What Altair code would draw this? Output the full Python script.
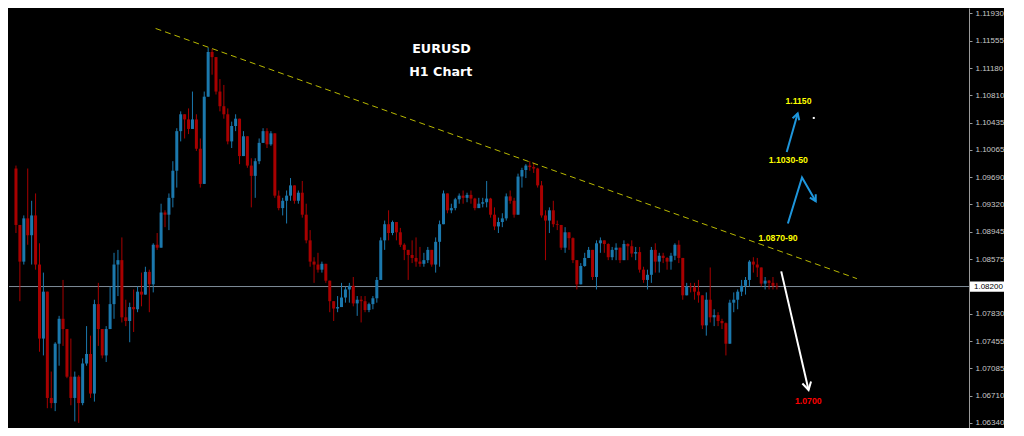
import altair as alt
import pandas as pd

# ---------------- data (EURUSD H1) ----------------
first_open = 1.0981
closes = [
1.0904,1.0854,1.0913,1.0890,1.0917,1.0850,1.0749,1.0813,1.0668,1.0661,
1.0742,1.0776,1.0762,1.0697,1.0668,1.0697,1.0661,1.0715,1.0728,1.0674,
1.0796,1.0762,1.0726,1.0762,1.0796,1.0850,1.0856,1.0778,1.0773,1.0792,
1.0789,1.0813,1.0809,1.0840,1.0823,1.0877,1.0873,1.0921,1.0918,1.0941,
1.0978,1.1032,1.1055,1.1048,1.1035,1.1048,1.1008,1.0960,1.1079,1.1140,
1.1133,1.1086,1.1066,1.1055,1.1018,1.1039,1.1049,1.0998,1.1025,1.0985,
1.0971,1.0991,1.1016,1.1032,1.1014,1.1029,1.0944,1.0927,1.0937,1.0944,
1.0958,1.0937,1.0948,1.0918,1.0883,1.0854,1.0850,1.0843,1.0851,1.0828,
1.0800,1.0790,1.0792,1.0805,1.0816,1.0821,1.0797,1.0802,1.0800,1.0788,
1.0796,1.0804,1.0829,1.0883,1.0905,1.0893,1.0908,1.0894,1.0877,1.0870,
1.0863,1.0859,1.0854,1.0851,1.0856,1.0870,1.0850,1.0881,1.0905,1.0947,
1.0924,1.0927,1.0939,1.0944,1.0941,1.0945,1.0940,1.0927,1.0933,1.0935,
1.0940,1.0918,1.0902,1.0908,1.0913,1.0943,1.0937,1.0918,1.0970,1.0979,
1.0985,1.0983,1.0981,1.0958,1.0917,1.0910,1.0924,1.0905,1.0904,1.0873,
1.0894,1.0886,1.0856,1.0823,1.0848,1.0859,1.0870,1.0833,1.0879,1.0883,
1.0878,1.0860,1.0870,1.0873,1.0856,1.0878,1.0875,1.0865,1.0867,1.0843,
1.0829,1.0836,1.0870,1.0854,1.0862,1.0859,1.0854,1.0862,1.0877,1.0859,
1.0808,1.0820,1.0819,1.0813,1.0808,1.0767,1.0802,1.0778,1.0781,1.0773,
1.0770,1.0742,1.0798,1.0802,1.0813,1.0821,1.0829,1.0854,1.0850,1.0846,
1.0824,1.0828,1.0825,1.0821,1.0820]
highs = [
1.0985,1.0900,1.0917,1.0981,1.0937,1.0947,1.0879,1.0839,1.0813,1.0704,
1.0744,1.0780,1.0829,1.0762,1.0749,1.0704,1.0699,1.0722,1.0766,1.0753,
1.0802,1.0825,1.0762,1.0766,1.0820,1.0866,1.0870,1.0887,1.0802,1.0798,
1.0816,1.0820,1.0839,1.0847,1.0843,1.0879,1.0893,1.0933,1.0924,1.0947,
1.0991,1.1036,1.1059,1.1055,1.1063,1.1086,1.1055,1.1022,1.1086,1.1146,
1.1144,1.1133,1.1103,1.1095,1.1063,1.1045,1.1055,1.1049,1.1032,1.1025,
1.0995,1.0995,1.1022,1.1036,1.1036,1.1032,1.1029,1.0951,1.0941,1.0951,
1.0968,1.0958,1.0951,1.0964,1.0933,1.0897,1.0860,1.0866,1.0854,1.0851,
1.0828,1.0800,1.0807,1.0825,1.0820,1.0825,1.0833,1.0807,1.0807,1.0807,
1.0798,1.0807,1.0833,1.0887,1.0910,1.0924,1.0910,1.0908,1.0900,1.0879,
1.0870,1.0883,1.0887,1.0874,1.0866,1.0874,1.0870,1.0887,1.0910,1.0951,
1.0947,1.0933,1.0941,1.0947,1.0951,1.0948,1.0951,1.0941,1.0941,1.0941,
1.0964,1.0941,1.0928,1.0914,1.0920,1.0947,1.0951,1.0941,1.0974,1.0982,
1.0987,1.0991,1.0989,1.0982,1.0964,1.0924,1.0928,1.0937,1.0910,1.0904,
1.0901,1.0893,1.0887,1.0856,1.0852,1.0866,1.0874,1.0870,1.0883,1.0887,
1.0883,1.0879,1.0874,1.0879,1.0873,1.0883,1.0879,1.0883,1.0874,1.0874,
1.0847,1.0843,1.0874,1.0879,1.0866,1.0866,1.0860,1.0866,1.0879,1.0883,
1.0859,1.0825,1.0825,1.0825,1.0829,1.0808,1.0812,1.0846,1.0789,1.0785,
1.0776,1.0771,1.0802,1.0812,1.0816,1.0829,1.0833,1.0856,1.0860,1.0859,
1.0846,1.0833,1.0829,1.0833,1.0825]
lows = [
1.0893,1.0800,1.0850,1.0877,1.0850,1.0843,1.0731,1.0726,1.0654,1.0654,
1.0650,1.0712,1.0739,1.0695,1.0658,1.0636,1.0634,1.0658,1.0712,1.0668,
1.0663,1.0739,1.0722,1.0717,1.0762,1.0776,1.0807,1.0771,1.0766,1.0744,
1.0758,1.0785,1.0793,1.0809,1.0785,1.0812,1.0870,1.0873,1.0901,1.0897,
1.0928,1.0955,1.1018,1.1022,1.1028,1.1035,1.1005,1.0955,1.0960,1.1079,
1.1109,1.1082,1.1059,1.1049,1.1014,1.1009,1.1032,1.0987,1.0998,1.0982,
1.0928,1.0941,1.0987,1.1016,1.1009,1.1012,1.0941,1.0924,1.0917,1.0906,
1.0937,1.0933,1.0933,1.0914,1.0879,1.0847,1.0825,1.0839,1.0839,1.0825,
1.0785,1.0773,1.0785,1.0792,1.0798,1.0798,1.0793,1.0780,1.0771,1.0785,
1.0785,1.0789,1.0798,1.0829,1.0870,1.0883,1.0890,1.0883,1.0874,1.0856,
1.0829,1.0852,1.0847,1.0847,1.0847,1.0852,1.0847,1.0839,1.0847,1.0905,
1.0920,1.0920,1.0924,1.0933,1.0933,1.0935,1.0933,1.0924,1.0927,1.0928,
1.0928,1.0914,1.0897,1.0893,1.0901,1.0910,1.0933,1.0914,1.0918,1.0955,
1.0968,1.0978,1.0975,1.0955,1.0914,1.0856,1.0893,1.0901,1.0897,1.0870,
1.0866,1.0870,1.0852,1.0816,1.0823,1.0847,1.0859,1.0829,1.0816,1.0866,
1.0866,1.0856,1.0856,1.0856,1.0852,1.0856,1.0856,1.0860,1.0856,1.0839,
1.0825,1.0816,1.0825,1.0839,1.0839,1.0852,1.0843,1.0843,1.0856,1.0852,
1.0802,1.0808,1.0812,1.0802,1.0798,1.0762,1.0753,1.0771,1.0766,1.0766,
1.0762,1.0726,1.0742,1.0785,1.0789,1.0807,1.0809,1.0820,1.0839,1.0833,
1.0820,1.0816,1.0816,1.0816,1.0816]

axis_ticks = [1.11930, 1.11555, 1.11180, 1.10810, 1.10435, 1.10065, 1.09690,
              1.09320, 1.08945, 1.08575, 1.07830, 1.07455, 1.07085, 1.06710, 1.06340]
current_price = 1.08200
current_label = "1.08200"

# trend line (bar index, price)
trend_k = [35.6, 214.4]
trend_p = [1.11721, 1.08308]

# forecast arrows: segment id, bar index, price
blue_seg = ["a", "a", "ah", "ah", "ah", "b", "b", "b", "bh", "bh", "bh"]
blue_k = [196.5, 199.3, 198.0, 199.3, 199.7, 196.8, 200.4, 203.9, 202.4, 203.9, 203.9]
blue_p = [1.10035, 1.10561, 1.10495, 1.10561, 1.10469, 1.09060, 1.09688, 1.09365,
          1.09412, 1.09365, 1.09459]
white_seg = ["w", "w", "wh", "wh", "wh"]
white_k = [195.1, 202.07, 200.5, 202.07, 202.7]
white_p = [1.08407, 1.06788, 1.06877, 1.06788, 1.06904]

title_text = ["EURUSD", "H1 Chart"]
title_k = [108.5, 108.3]
title_p = [1.11438, 1.11127]

level_text = ["1.1150", "1.1030-50", "1.0870-90"]
level_k = [199.5, 196.9, 194.3]
level_p = [1.10736, 1.09927, 1.08865]

target_text = ["1.0700"]
target_k = [202.0]
target_p = [1.0664]

dot_k = [203.4]
dot_p = [1.10500]

# ---------------- styling ----------------
BLUE = "#1b78ad"
RED = "#a80000"
ARROW_BLUE = "#1e96dc"
X_DOMAIN = [-0.5, 241.7]
Y_DOMAIN = [1.0627, 1.1200]
W, H = 960, 420

opens = [first_open] + closes[:-1]
df = pd.DataFrame({"k": list(range(len(closes))), "o": opens, "c": closes,
                   "h": highs, "l": lows})
df["hi"] = df[["h", "o", "c"]].max(axis=1)
df["lo"] = df[["l", "o", "c"]].min(axis=1)

xs = alt.Scale(domain=X_DOMAIN, nice=False, zero=False)
ys = alt.Scale(domain=Y_DOMAIN, nice=False, zero=False)
yaxis = alt.Axis(orient="right", values=axis_ticks, format=".5f", grid=False,
                 title=None, domainColor="#9a9a9a", tickColor="#9a9a9a",
                 labelColor="#c8c8c8", labelFont="Liberation Sans",
                 labelFontSize=8, tickSize=3, labelPadding=3)


def X(f):
    return alt.X(f, type="quantitative", scale=xs, axis=None)


def Y(f):
    return alt.Y(f, type="quantitative", scale=ys, axis=yaxis)


col = alt.condition("datum.c >= datum.o", alt.value(BLUE), alt.value(RED))

cur = pd.DataFrame({"p": [current_price], "label": [current_label],
                    "top": [current_price + 0.0007], "bot": [current_price - 0.0007]})

price_line = alt.Chart(cur).mark_rule(color="#7f8d99", strokeWidth=1).encode(y=Y("p"))

wicks = alt.Chart(df).mark_rule(strokeWidth=1).encode(x=X("k"), y=Y("lo"), y2="hi", color=col)
bodies = alt.Chart(df).mark_bar(size=3).encode(x=X("k"), y=Y("o"), y2="c", color=col)

trend = alt.Chart(pd.DataFrame({"k": trend_k, "p": trend_p})).mark_line(
    color="#b8b800", strokeWidth=1, strokeDash=[6, 4]).encode(x=X("k"), y=Y("p"))

blue_df = pd.DataFrame({"seg": blue_seg, "k": blue_k, "p": blue_p,
                        "n": list(range(len(blue_k)))})
blue_arrows = alt.Chart(blue_df).mark_line(color=ARROW_BLUE, strokeWidth=2).encode(
    x=X("k"), y=Y("p"), detail="seg:N", order="n:Q")

white_df = pd.DataFrame({"seg": white_seg, "k": white_k, "p": white_p,
                         "n": list(range(len(white_k)))})
white_arrow = alt.Chart(white_df).mark_line(color="#ffffff", strokeWidth=2).encode(
    x=X("k"), y=Y("p"), detail="seg:N", order="n:Q")

titles = alt.Chart(pd.DataFrame({"t": title_text, "k": title_k, "p": title_p})).mark_text(
    color="#ffffff", font="DejaVu Sans", fontWeight="bold", fontSize=12.7,
    align="center", baseline="middle").encode(x=X("k"), y=Y("p"), text="t:N")

levels = alt.Chart(pd.DataFrame({"t": level_text, "k": level_k, "p": level_p})).mark_text(
    color="#ffff00", font="Liberation Sans", fontWeight="bold", fontSize=8.7,
    align="center", baseline="middle").encode(x=X("k"), y=Y("p"), text="t:N")

target = alt.Chart(pd.DataFrame({"t": target_text, "k": target_k, "p": target_p})).mark_text(
    color="#ff0000", font="Liberation Sans", fontWeight="bold", fontSize=8.7,
    align="center", baseline="middle").encode(x=X("k"), y=Y("p"), text="t:N")

dot = alt.Chart(pd.DataFrame({"k": dot_k, "p": dot_p})).mark_square(
    color="#ffffff", size=4, opacity=1).encode(x=X("k"), y=Y("p"))

box = alt.Chart(cur).mark_rect(color="#ffffff").encode(
    x=alt.value(W + 1), x2=alt.value(W + 35), y=Y("top"), y2="bot")
box_text = alt.Chart(cur).mark_text(
    color="#000000", font="Liberation Sans", fontSize=8, align="left",
    baseline="middle").encode(x=alt.value(W + 5), y=Y("p"), text="label:N")

chart = alt.layer(
    price_line, wicks, bodies, trend, blue_arrows, white_arrow,
    titles, levels, target, dot, box, box_text
).properties(
    width=W, height=H, background="#000000", padding=0
).configure_view(stroke=None)

chart.save("out.html", embed_options={"renderer": "svg", "actions": False})
